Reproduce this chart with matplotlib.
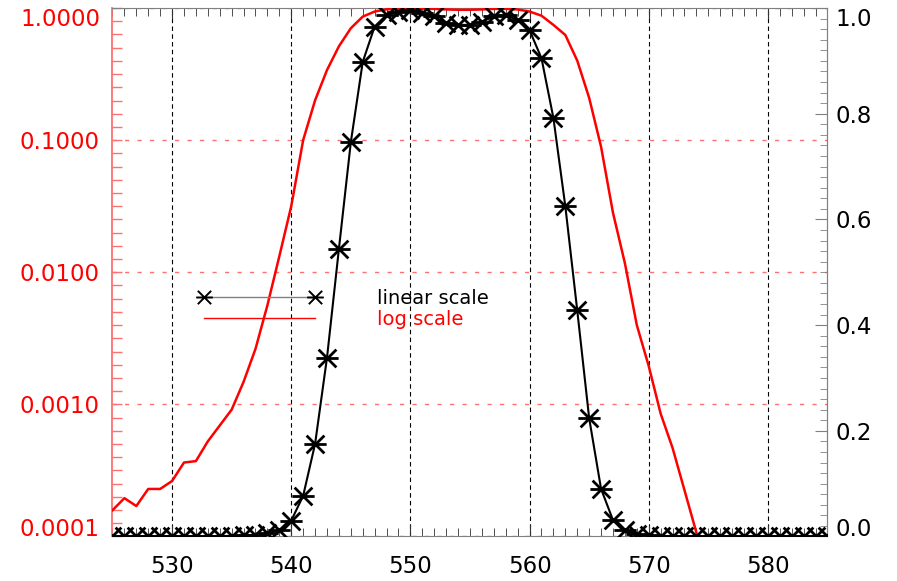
import matplotlib
matplotlib.use("Agg")
import matplotlib.pyplot as plt
import numpy as np
from matplotlib.lines import Line2D
from matplotlib.path import Path
from matplotlib.ticker import FixedLocator, MultipleLocator, FormatStrFormatter, NullFormatter

# wavelength grid (nm)
wavelength = np.arange(525, 586)

# transmission read on the linear (right) axis
trans_linear = [
    0.0, 0.0, 0.0, 0.0, 0.0, 0.0, 0.0, 0.0, 0.0, 0.001, 0.001, 0.002, 0.003,
    0.006, 0.012, 0.030, 0.077, 0.175, 0.338, 0.544, 0.746, 0.898, 0.965,
    0.987, 0.993, 0.996, 0.990, 0.984, 0.971, 0.968, 0.968, 0.974, 0.984,
    0.987, 0.977, 0.958, 0.905, 0.792, 0.625, 0.428, 0.224, 0.090, 0.031,
    0.012, 0.004, 0.002, 0.001,
    0.0, 0.0, 0.0, 0.0, 0.0, 0.0, 0.0, 0.0, 0.0, 0.0, 0.0, 0.0, 0.0, 0.0,
]

# transmission read on the log (left) axis
trans_log = [
    1.58e-4, 1.95e-4, 1.70e-4, 2.29e-4, 2.29e-4, 2.63e-4, 3.63e-4, 3.72e-4,
    5.25e-4, 6.92e-4, 9.12e-4, 1.48e-3, 2.63e-3, 5.62e-3, 1.32e-2, 3.16e-2,
    0.100, 0.200, 0.339, 0.513, 0.703, 0.861, 0.940, 0.977, 0.990, 0.995,
    0.990, 0.985, 0.975, 0.970, 0.970, 0.975, 0.985, 0.985, 0.975, 0.940,
    0.875, 0.745, 0.625, 0.400, 0.209, 0.0891, 0.0282, 0.0117, 3.98e-3,
    1.95e-3, 8.51e-4, 4.68e-4, 2.24e-4, 1.07e-4, 4.0e-5,
    1e-5, 1e-5, 1e-5, 1e-5, 1e-5, 1e-5, 1e-5, 1e-5, 1e-5, 1e-5,
]

log_ticks = [1e-4, 1e-3, 1e-2, 1e-1, 1.0]
lin_ticks = [0.0, 0.2, 0.4, 0.6, 0.8, 1.0]
x_ticks = [530, 540, 550, 560, 570, 580]

RED = "#ff0000"
LIGHT_RED = "#ff7070"
GRAY = "#808080"

# IDL-like asterisk: horizontal bar plus an X
asterisk = Path(
    [(-1, 0), (1, 0), (-0.8, -0.8), (0.8, 0.8), (-0.8, 0.8), (0.8, -0.8)],
    [Path.MOVETO, Path.LINETO, Path.MOVETO, Path.LINETO, Path.MOVETO, Path.LINETO],
)

plt.rcParams["font.family"] = ["DejaVu Sans"]

fig = plt.figure(figsize=(8.97, 5.81), dpi=100)
ax = fig.add_axes([0.1254, 0.0766, 0.7971, 0.9096])
ax2 = ax.twinx()

# log-scale curve on the left axis
ax.plot(wavelength, trans_log, color=RED, lw=1.8, zorder=3)
ax.set_yscale("log")
ax.set_ylim(1e-4, 1.0)
ax.set_xlim(525, 585)

ax.yaxis.set_major_locator(FixedLocator(log_ticks))
ax.yaxis.set_major_formatter(FormatStrFormatter("%.4f"))
minor = [10 ** (k + j / 10) for k in range(-4, 0) for j in range(1, 10)]
ax.yaxis.set_minor_locator(FixedLocator(minor))
ax.yaxis.set_minor_formatter(NullFormatter())
ax.tick_params(axis="y", which="both", direction="in", length=7, width=1,
               color=LIGHT_RED, labelcolor=RED, labelsize=16.5, pad=9)

ax.xaxis.set_major_locator(FixedLocator(x_ticks))
ax.xaxis.set_minor_locator(MultipleLocator(1))
ax.tick_params(axis="x", which="both", direction="in", top=True, bottom=True,
               color="#333333", labelsize=16.5, pad=13)
ax.tick_params(axis="x", which="major", length=8)
ax.tick_params(axis="x", which="minor", length=6)

ax.xaxis.grid(True, which="major", color="black", ls=(0, (4, 3)), lw=0.8)
ax.yaxis.grid(True, which="major", color=LIGHT_RED, ls=(0, (3, 6)), lw=1.0)

ax.spines["left"].set_color(LIGHT_RED)
ax.spines["left"].set_linewidth(1.3)
for side in ("top", "bottom", "right"):
    ax.spines[side].set_color(GRAY)

# linear-scale curve on the right axis
ax2.plot(wavelength, trans_linear, color="black", lw=1.5, marker=asterisk,
         markersize=16, markeredgewidth=2.0, zorder=4)
ax2.set_ylim(0.0, 1.0)
ax2.yaxis.set_major_locator(FixedLocator(lin_ticks))
ax2.yaxis.set_major_formatter(FormatStrFormatter("%.1f"))
ax2.yaxis.set_minor_locator(MultipleLocator(0.02))
ax2.tick_params(axis="y", which="both", direction="in", color=GRAY,
                labelcolor="black", labelsize=16.5, pad=6)
ax2.tick_params(axis="y", which="major", length=9)
ax2.tick_params(axis="y", which="minor", length=5)
for side in ("top", "bottom", "left"):
    ax2.spines[side].set_visible(False)
ax2.spines["right"].set_color(GRAY)

# edge labels sit inside the frame, as IDL draws them
fig.canvas.draw()
for a in (ax, ax2):
    ticks = a.yaxis.get_major_ticks()
    ticks[0].label1.set_va("baseline")
    ticks[0].label2.set_va("baseline")
    ticks[-1].label1.set_va("top")
    ticks[-1].label2.set_va("top")

handles = [
    Line2D([], [], color=GRAY, lw=1.0, marker=asterisk, markersize=12,
           markeredgewidth=1.4, markeredgecolor="black"),
    Line2D([], [], color=RED, lw=1.0),
]
leg = ax2.legend(handles, ["linear scale", "log scale"], loc="center left",
                 bbox_to_anchor=(0.1196, 0.431), frameon=False, numpoints=2,
                 fontsize=14, handlelength=6.3, handletextpad=2.9,
                 labelspacing=0.1, borderpad=0, borderaxespad=0)
leg.get_texts()[1].set_color(RED)

fig.savefig("out.png", dpi=100)
plt.close(fig)
